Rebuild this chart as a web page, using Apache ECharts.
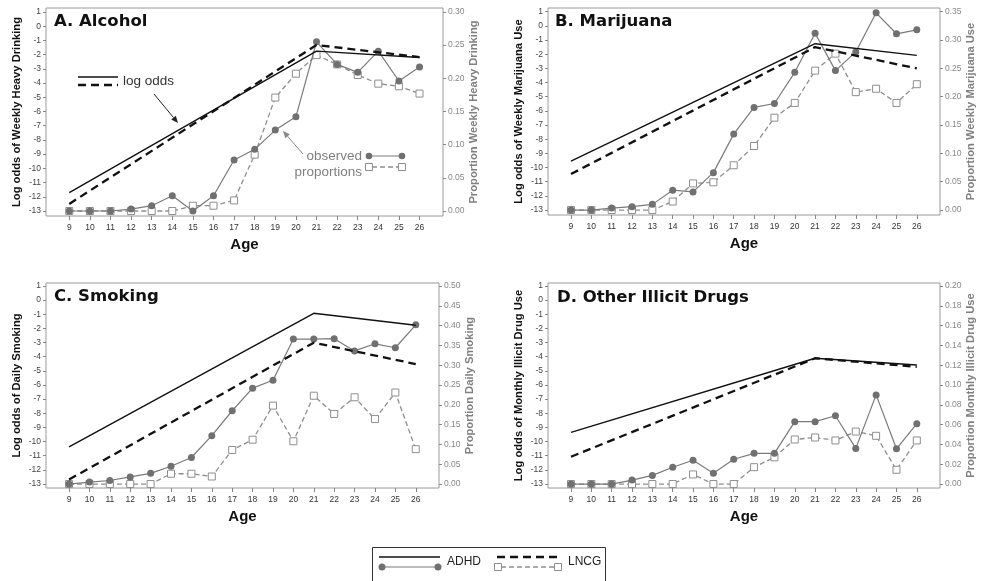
<!DOCTYPE html>
<html><head><meta charset="utf-8">
<script src="https://cdn.jsdelivr.net/npm/echarts@6/dist/echarts.min.js"></script>
<style>html,body{margin:0;padding:0;background:#fff}#c{width:984px;height:581px}</style>
</head><body><div id="c"></div>
<script>
// ---------- data ----------
const ages = [9,10,11,12,13,14,15,16,17,18,19,20,21,22,23,24,25,26];
const logOddsAges = [9, 21, 26];
const logOddsTicks = [-13,-12,-11,-10,-9,-8,-7,-6,-5,-4,-3,-2,-1,0,1];

// A. Alcohol
const alcoholAdhdLogOdds = [-11.7, -1.75, -2.2];
const alcoholLncgLogOdds = [-12.5, -1.32, -2.17];
const alcoholAdhdObs = [0,0,0,0.003,0.008,0.023,0,0.023,0.077,0.093,0.122,0.142,0.255,0.221,0.209,0.241,0.196,0.217];
const alcoholLncgObs = [0,0,0,0,0,0,0.008,0.008,0.016,0.085,0.171,0.207,0.235,0.221,0.205,0.192,0.188,0.177];
const alcoholPropTicks = [0,0.05,0.10,0.15,0.20,0.25,0.30];

// B. Marijuana
const marijuanaAdhdLogOdds = [-9.54, -1.26, -2.08];
const marijuanaLncgLogOdds = [-10.46, -1.5, -3.0];
const marijuanaAdhdObs = [0,0,0.0035,0.006,0.010,0.035,0.032,0.066,0.134,0.181,0.188,0.243,0.312,0.246,0.279,0.348,0.311,0.318];
const marijuanaLncgObs = [0,0,0,0,0,0.015,0.047,0.049,0.079,0.113,0.163,0.189,0.246,0.276,0.208,0.214,0.189,0.222];
const marijuanaPropTicks = [0,0.05,0.10,0.15,0.20,0.25,0.30,0.35];

// C. Smoking
const smokingAdhdLogOdds = [-10.37, -0.93, -1.78];
const smokingLncgLogOdds = [-12.68, -3.01, -4.52];
const smokingAdhdObs = [0,0.005,0.009,0.018,0.027,0.045,0.067,0.122,0.185,0.242,0.262,0.366,0.366,0.367,0.336,0.354,0.344,0.402];
const smokingLncgObs = [0,0,0,0,0,0.026,0.026,0.019,0.086,0.112,0.198,0.108,0.223,0.177,0.219,0.164,0.231,0.088];
const smokingPropTicks = [0,0.05,0.10,0.15,0.20,0.25,0.30,0.35,0.40,0.45,0.50];

// D. Other Illicit Drugs
const drugsAdhdLogOdds = [-9.35, -4.11, -4.59];
const drugsLncgLogOdds = [-11.07, -4.11, -4.71];
const drugsAdhdObs = [0,0,0,0.004,0.0087,0.017,0.024,0.011,0.025,0.031,0.031,0.063,0.063,0.069,0.036,0.090,0.0356,0.061];
const drugsLncgObs = [0,0,0,0,0,0,0.0097,0,0,0.017,0.027,0.045,0.047,0.044,0.053,0.0487,0.0144,0.044];
const drugsPropTicks = [0,0.02,0.04,0.06,0.08,0.10,0.12,0.14,0.16,0.18,0.20];

const panelTitles = ['A. Alcohol','B. Marijuana','C. Smoking','D. Other Illicit Drugs'];
const leftNames = ['Log odds of Weekly Heavy Drinking','Log odds of Weekly Marijuana Use','Log odds of Daily Smoking','Log odds of Monthly Illicit Drug Use'];
const rightNames = ['Proportion Weekly Heavy Drinking','Proportion Weekly Marijuana Use','Proportion Daily Smoking','Proportion Monthly Illicit Drug Use'];
const legendNames = ['ADHD','LNCG'];

// ---------- layout ----------
const layouts = [
  {left:46, top:8, width:397, height:208, yMin:-13.35, yMax:1.28},
  {left:548, top:8, width:392, height:207, yMin:-13.35, yMax:1.26},
  {left:46, top:283, width:393, height:205, yMin:-13.28, yMax:1.21},
  {left:548, top:283, width:392, height:205, yMin:-13.28, yMax:1.21}
];
const panels = [
  {adhdLO:alcoholAdhdLogOdds, lncgLO:alcoholLncgLogOdds, adhdObs:alcoholAdhdObs, lncgObs:alcoholLncgObs, ticks:alcoholPropTicks},
  {adhdLO:marijuanaAdhdLogOdds, lncgLO:marijuanaLncgLogOdds, adhdObs:marijuanaAdhdObs, lncgObs:marijuanaLncgObs, ticks:marijuanaPropTicks},
  {adhdLO:smokingAdhdLogOdds, lncgLO:smokingLncgLogOdds, adhdObs:smokingAdhdObs, lncgObs:smokingLncgObs, ticks:smokingPropTicks},
  {adhdLO:drugsAdhdLogOdds, lncgLO:drugsLncgLogOdds, adhdObs:drugsAdhdObs, lncgObs:drugsLncgObs, ticks:drugsPropTicks}
];

const GRAY = '#7a7a7a';
const SQ = '#8e8e8e';
const grids = [], xAxes = [], yAxes = [], series = [], titles = [];
const titlePos = [[54,13],[555,13],[54,288],[557,289]];

panels.forEach((p, i) => {
  const L = layouts[i];
  grids.push({left:L.left, top:L.top, width:L.width, height:L.height, show:true, borderColor:'#9a9a9a', borderWidth:1});
  xAxes.push({
    gridIndex:i, type:'value', position:'bottom', min:7.87, max:27.14,
    name:'Age', nameLocation:'middle', nameGap:21,
    nameTextStyle:{fontFamily:'Liberation Sans', fontWeight:'bold', fontSize:15, color:'#111'},
    axisLine:{show:false, onZero:false}, splitLine:{show:false},
    axisTick:{show:true, length:4, customValues:ages, lineStyle:{color:'#888'}},
    axisLabel:{customValues:ages, fontSize:8.5, color:'#333', margin:7, fontFamily:'Liberation Sans'}
  });
  const rTop = p.ticks[p.ticks.length-1];
  const rMin = (L.yMin + 13) / 14 * rTop;
  const rMax = (L.yMax + 13) / 14 * rTop;
  yAxes.push({
    gridIndex:i, type:'value', position:'left', min:L.yMin, max:L.yMax,
    name:leftNames[i], nameLocation:'middle', nameGap:24, nameRotate:90,
    nameTextStyle:{fontFamily:'Liberation Sans', fontWeight:'bold', fontSize:11.2, color:'#111'},
    axisLine:{show:false, onZero:false}, splitLine:{show:false},
    axisTick:{show:true, length:3, customValues:logOddsTicks, lineStyle:{color:'#888'}},
    axisLabel:{customValues:logOddsTicks, fontSize:8.5, color:'#444', margin:5, fontFamily:'Liberation Sans'}
  });
  yAxes.push({
    gridIndex:i, type:'value', position:'right', min:rMin, max:rMax,
    name:rightNames[i], nameLocation:'middle', nameGap:25, nameRotate:90,
    nameTextStyle:{fontFamily:'Liberation Sans', fontWeight:'bold', fontSize:11.2, color:'#808080'},
    axisLine:{show:false, onZero:false}, splitLine:{show:false},
    axisTick:{show:true, length:3, customValues:p.ticks, lineStyle:{color:'#888'}},
    axisLabel:{customValues:p.ticks, fontSize:8.5, color:'#888', margin:5, fontFamily:'Liberation Sans',
      formatter:v => v.toFixed(2)}
  });
  const yl = i*2, yr = i*2+1;
  series.push({
    type:'line', name:legendNames[1], xAxisIndex:i, yAxisIndex:yr,
    data: ages.map((a,k)=>[a, p.lncgObs[k]]),
    symbol:'rect', symbolSize:7, showSymbol:true,
    itemStyle:{color:'#fff', borderColor:SQ, borderWidth:1},
    lineStyle:{color:SQ, width:1.3, type:[5,3]}, animation:false, z:2
  });
  series.push({
    type:'line', name:legendNames[0], xAxisIndex:i, yAxisIndex:yr,
    data: ages.map((a,k)=>[a, p.adhdObs[k]]),
    symbol:'circle', symbolSize:7, showSymbol:true,
    itemStyle:{color:'#707070', borderWidth:0},
    lineStyle:{color:GRAY, width:1.2}, animation:false, z:3
  });
  series.push({
    type:'line', name:legendNames[0], xAxisIndex:i, yAxisIndex:yl,
    data: logOddsAges.map((a,k)=>[a, p.adhdLO[k]]),
    symbol:'none', lineStyle:{color:'#111', width:1.4}, animation:false, z:4
  });
  series.push({
    type:'line', name:legendNames[1], xAxisIndex:i, yAxisIndex:yl,
    data: logOddsAges.map((a,k)=>[a, p.lncgLO[k]]),
    symbol:'none', lineStyle:{color:'#111', width:2.3, type:[8,5]}, animation:false, z:4
  });
  titles.push({text:panelTitles[i], left:titlePos[i][0], top:titlePos[i][1], padding:0,
    textStyle:{fontFamily:'DejaVu Sans', fontWeight:'bold', fontSize:16.5, color:'#111'}});
});

// ---------- annotations ----------
function arrow(x1,y1,x2,y2,color,w){
  const ang = Math.atan2(y2-y1, x2-x1), h = 7, s = 3;
  const bx = x2 - h*Math.cos(ang), by = y2 - h*Math.sin(ang);
  const px = -Math.sin(ang)*s, py = Math.cos(ang)*s;
  return [
    {type:'line', shape:{x1,y1,x2:bx,y2:by}, style:{stroke:color, lineWidth:w}},
    {type:'polygon', shape:{points:[[x2,y2],[bx+px,by+py],[bx-px,by-py]]}, style:{fill:color}}
  ];
}
const graphics = [
  {type:'line', shape:{x1:78,y1:77,x2:118,y2:77}, style:{stroke:'#111', lineWidth:1.4}},
  {type:'line', shape:{x1:78,y1:85,x2:118,y2:85}, style:{stroke:'#111', lineWidth:2.3, lineDash:[8,5]}},
  {type:'text', x:123, y:81, style:{text:'log odds', fontFamily:'Liberation Sans', fontSize:13.5, fill:'#333', verticalAlign:'middle'}},
  ...arrow(154,94,178,123,'#222',1),
  {type:'text', x:362, y:156, style:{text:'observed', fontFamily:'Liberation Sans', fontSize:13.5, fill:'#808080', align:'right', verticalAlign:'middle'}},
  {type:'text', x:362, y:172, style:{text:'proportions', fontFamily:'Liberation Sans', fontSize:13.5, fill:'#808080', align:'right', verticalAlign:'middle'}},
  {type:'line', shape:{x1:369,y1:156,x2:402,y2:156}, style:{stroke:GRAY, lineWidth:1.2}},
  {type:'circle', shape:{cx:369,cy:156,r:3.3}, style:{fill:'#707070'}},
  {type:'circle', shape:{cx:402,cy:156,r:3.3}, style:{fill:'#707070'}},
  {type:'line', shape:{x1:372,y1:167,x2:399,y2:167}, style:{stroke:SQ, lineWidth:1.3, lineDash:[5,3]}},
  {type:'rect', shape:{x:365.5,y:163.5,width:7,height:7}, style:{fill:'#fff', stroke:SQ, lineWidth:1}},
  {type:'rect', shape:{x:398.5,y:163.5,width:7,height:7}, style:{fill:'#fff', stroke:SQ, lineWidth:1}},
  ...arrow(303,154,283,131,'#888',1),
  {type:'rect', shape:{x:372.5,y:547.5,width:233,height:40}, style:{fill:'none', stroke:'#333', lineWidth:1}},
  {type:'line', shape:{x1:379,y1:557,x2:440,y2:557}, style:{stroke:'#111', lineWidth:1.4}},
  {type:'line', shape:{x1:382,y1:567,x2:438,y2:567}, style:{stroke:GRAY, lineWidth:1.2}},
  {type:'circle', shape:{cx:382,cy:567,r:3.5}, style:{fill:'#707070'}},
  {type:'circle', shape:{cx:438,cy:567,r:3.5}, style:{fill:'#707070'}},
  {type:'text', x:447, y:562, style:{text:legendNames[0], fontFamily:'Liberation Sans', fontSize:12, fill:'#222', verticalAlign:'middle'}},
  {type:'line', shape:{x1:497,y1:557,x2:558,y2:557}, style:{stroke:'#111', lineWidth:2.3, lineDash:[8,5]}},
  {type:'line', shape:{x1:501,y1:567,x2:555,y2:567}, style:{stroke:SQ, lineWidth:1.3, lineDash:[5,3]}},
  {type:'rect', shape:{x:494.5,y:563.5,width:7,height:7}, style:{fill:'#fff', stroke:SQ, lineWidth:1}},
  {type:'rect', shape:{x:554.5,y:563.5,width:7,height:7}, style:{fill:'#fff', stroke:SQ, lineWidth:1}},
  {type:'text', x:568, y:562, style:{text:legendNames[1], fontFamily:'Liberation Sans', fontSize:12, fill:'#222', verticalAlign:'middle'}}
];

const chart = echarts.init(document.getElementById('c'), null, {renderer:'canvas'});
chart.setOption({
  backgroundColor:'#fff', animation:false,
  title:titles, grid:grids, xAxis:xAxes, yAxis:yAxes, series:series, graphic:graphics
});
</script></body></html>
